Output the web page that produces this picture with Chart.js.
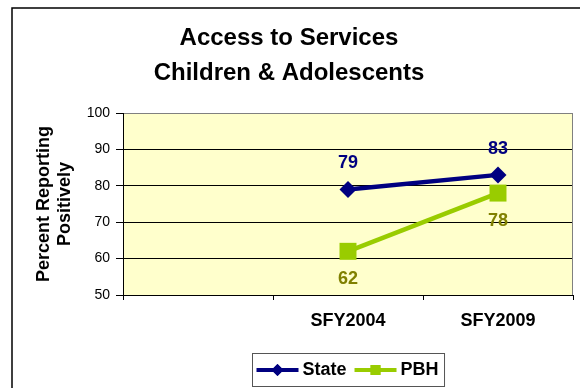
<!DOCTYPE html>
<html>
<head>
<meta charset="utf-8">
<title>Access to Services - Children & Adolescents</title>
<script src="https://cdn.jsdelivr.net/npm/chart.js@4/dist/chart.umd.min.js"></script>
<style>
  html, body { margin: 0; padding: 0; background: #fff; }
  #wrap { width: 580px; height: 388px; }
</style>
</head>
<body>
<div id="wrap"><canvas id="chart" width="580" height="388"></canvas></div>
<script>
// --- Data ---
const categories = ['', 'SFY2004', 'SFY2009'];
const stateValues = [null, 79, 83];
const pbhValues = [null, 62, 78];
const titleLines = ['Access to Services', 'Children & Adolescents'];
const yTitleLines = ['Percent Reporting', 'Positively'];
const Y_MIN = 50, Y_MAX = 100, Y_STEP = 10;

const FONT = "'Liberation Sans', Arial, sans-serif";
const NAVY = '#000080';
const LIME = '#99CC00';
const OLIVE = '#808000';

// --- Drawing helpers (background, frame, title, labels, legend) ---
const decorPlugin = {
    id: 'decor',
    beforeDraw(chart) {
        const { ctx, chartArea: a } = chart;
        ctx.save();
        ctx.fillStyle = '#fff';
        ctx.fillRect(0, 0, chart.width, chart.height);
        ctx.fillStyle = '#FFFFCC';
        ctx.fillRect(a.left, a.top, a.right - a.left, a.bottom - a.top);

        // outer frame (left + top only are visible in the crop)
        ctx.strokeStyle = '#000';
        ctx.lineWidth = 1.5;
        ctx.beginPath();
        ctx.moveTo(12, chart.height);
        ctx.lineTo(12, 8);
        ctx.lineTo(chart.width, 8);
        ctx.stroke();

        // title
        ctx.fillStyle = '#000';
        ctx.font = `bold 24px ${FONT}`;
        ctx.textAlign = 'center';
        ctx.textBaseline = 'alphabetic';
        ctx.fillText(titleLines[0], 289, 44.5);
        ctx.fillText(titleLines[1], 289, 80);
        ctx.restore();
    },
    afterDatasetsDraw(chart) {
        const { ctx, chartArea: a } = chart;
        ctx.save();
        // right border of plot
        ctx.strokeStyle = '#808080';
        ctx.lineWidth = 1;
        ctx.beginPath();
        ctx.moveTo(a.right - 0.5, a.top);
        ctx.lineTo(a.right - 0.5, a.bottom);
        ctx.stroke();

        // data labels
        ctx.font = `bold 18px ${FONT}`;
        ctx.textAlign = 'center';
        ctx.textBaseline = 'middle';
        chart.data.datasets.forEach((ds, i) => {
            const meta = chart.getDatasetMeta(i);
            meta.data.forEach((pt, j) => {
                if (ds.data[j] == null) return;
                ctx.fillStyle = ds.labelColor;
                ctx.fillText(String(ds.data[j]), pt.x, pt.y + ds.labelOffset);
            });
        });
        ctx.restore();
    },
    afterDraw(chart) {
        const { ctx, chartArea: a } = chart;
        const ds = chart.data.datasets;
        ctx.save();
        ctx.font = `bold 18px ${FONT}`;
        const sample = 42, gapText = 4, gapItem = 8, padL = 4, padR = 6;
        const widths = ds.map(d => ctx.measureText(d.label).width);
        let total = padL + padR;
        widths.forEach((w, i) => { total += sample + gapText + w + (i ? gapItem : 0); });
        const cx = (a.left + a.right) / 2;
        const left = Math.round(cx - total / 2) + 0.5;
        const top = 353.5, h = 33;
        const cy = top + h / 2;

        ctx.strokeStyle = '#555';
        ctx.lineWidth = 1;
        ctx.strokeRect(left, top, total, h);

        let x = left + padL;
        ds.forEach((d, i) => {
            if (i) x += gapItem;
            ctx.strokeStyle = d.borderColor;
            ctx.lineWidth = 4;
            ctx.beginPath();
            ctx.moveTo(x, cy);
            ctx.lineTo(x + sample, cy);
            ctx.stroke();
            ctx.fillStyle = d.borderColor;
            ctx.beginPath();
            Chart.helpers.drawPoint(ctx, {
                pointStyle: d.pointStyle,
                radius: d.legendRadius,
                borderWidth: 0
            }, x + sample / 2, cy);
            ctx.fill();
            x += sample + gapText;
            ctx.fillStyle = '#000';
            ctx.textAlign = 'left';
            ctx.textBaseline = 'middle';
            ctx.fillText(d.label, x, cy);
            x += widths[i];
        });
        ctx.restore();
    }
};

// --- Chart ---
const ctx = document.getElementById('chart').getContext('2d');
const chart = new Chart(ctx, {
    type: 'line',
    data: {
        labels: categories,
        datasets: [
            {
                label: 'State',
                data: stateValues,
                borderColor: NAVY,
                backgroundColor: NAVY,
                borderWidth: 4.5,
                pointStyle: 'rectRot',
                pointRadius: 8.5,
                pointBorderWidth: 0,
                legendRadius: 6,
                labelColor: NAVY,
                labelOffset: -26,
                tension: 0,
                fill: false
            },
            {
                label: 'PBH',
                data: pbhValues,
                borderColor: LIME,
                backgroundColor: LIME,
                borderWidth: 4.5,
                pointStyle: 'rect',
                pointRadius: 12,
                pointBorderWidth: 0,
                legendRadius: 7,
                labelColor: OLIVE,
                labelOffset: 27.5,
                tension: 0,
                fill: false
            }
        ]
    },
    options: {
        responsive: false,
        animation: false,
        devicePixelRatio: 1,
        layout: {
            autoPadding: false, // big markers would otherwise push the plot inward
            padding: { top: 113, left: 0, right: 7, bottom: 48 }
        },
        plugins: {
            legend: { display: false },
            title: { display: false },
            tooltip: { enabled: false }
        },
        scales: {
            x: {
                offset: true,
                grid: {
                    offset: true,
                    drawOnChartArea: false,
                    drawTicks: true,
                    tickLength: 5,
                    color: '#000'
                },
                border: { color: '#000', width: 1 },
                ticks: {
                    color: '#000',
                    padding: 10,
                    font: { family: FONT, size: 18, weight: 'bold' }
                },
                afterFit(scale) { scale.height = 45; }
            },
            y: {
                min: Y_MIN,
                max: Y_MAX,
                grid: {
                    color: c => (c.tick && c.tick.value === Y_MAX) ? '#808080' : '#000',
                    tickColor: '#000',
                    lineWidth: 1,
                    drawTicks: true,
                    tickLength: 7
                },
                border: { color: '#000', width: 1 },
                ticks: {
                    stepSize: Y_STEP,
                    color: '#000',
                    padding: 6,
                    font: { family: FONT, size: 14 }
                },
                title: {
                    display: true,
                    text: yTitleLines,
                    color: '#000',
                    padding: { top: 33, bottom: 0 },
                    font: { family: FONT, size: 18, weight: 'bold', lineHeight: 1.2 }
                },
                afterFit(scale) { scale.width = 123; }
            }
        }
    },
    plugins: [decorPlugin]
});
</script>
</body>
</html>
